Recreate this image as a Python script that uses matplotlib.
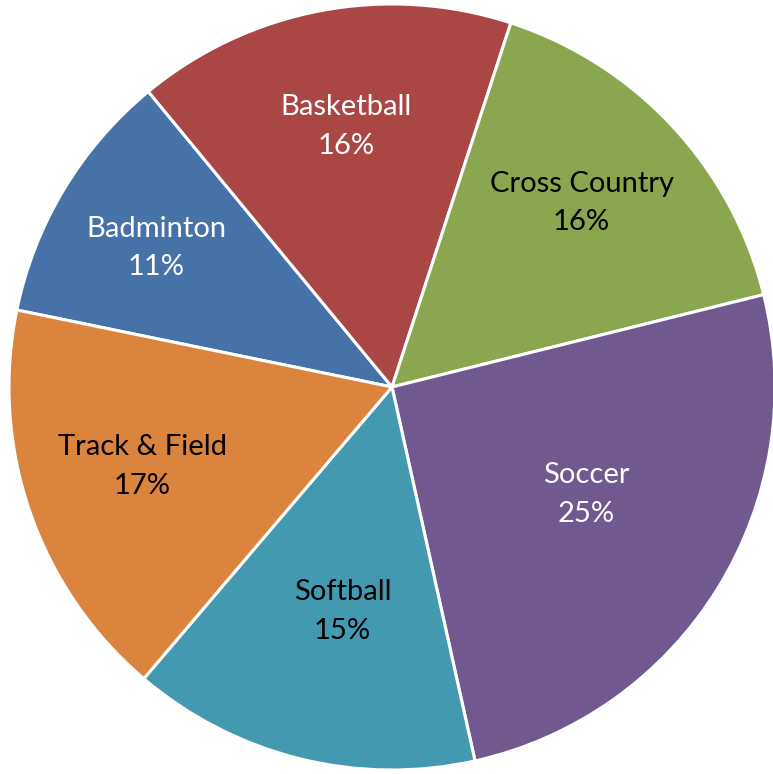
import numpy as np
import matplotlib
matplotlib.use('Agg')
import matplotlib.pyplot as plt

sports = ['Badminton', 'Basketball', 'Cross Country', 'Soccer', 'Softball', 'Track & Field']
shares = [10.8, 16.0, 16.1, 25.4, 14.7, 17.0]
pct_labels = ['11%', '16%', '16%', '25%', '15%', '17%']
colors = ['#4672A8', '#AA4644', '#8AA64F', '#71598F', '#4299B0', '#DB843D']
text_colors = ['white', 'white', 'black', 'white', 'black', 'black']
# label placement: radius fraction and angle nudge (deg) from the wedge middle
label_r = [0.715, 0.69, 0.69, 0.58, 0.60, 0.685]
label_da = [0.5, -0.8, 1.2, 2.9, 1.5, -1.3]

plt.rcParams['font.family'] = ['Lato', 'DejaVu Sans']

fig = plt.figure(figsize=(7.73, 7.74), dpi=100)
ax = fig.add_axes([0, 0, 1, 1])
R = 383.0
cx, cy = 392.0, 387.0
wedges, _ = ax.pie(shares, colors=colors, startangle=168.4, counterclock=False,
                   radius=1.0, wedgeprops=dict(edgecolor='white', linewidth=2.2))
ax.set_xlim(-cx / R, (773 - cx) / R)
ax.set_ylim(-(774 - cy) / R, cy / R)
ax.set_aspect('auto')
ax.axis('off')

for w, name, pct, tc, r, da in zip(wedges, sports, pct_labels, text_colors, label_r, label_da):
    ang = np.deg2rad((w.theta1 + w.theta2) / 2 + da)
    x, y = r * np.cos(ang), r * np.sin(ang)
    ax.text(x, y, name + '\n' + pct, ha='center', va='center', color=tc,
            fontsize=21, linespacing=1.6)

fig.savefig('out.png', dpi=100)
